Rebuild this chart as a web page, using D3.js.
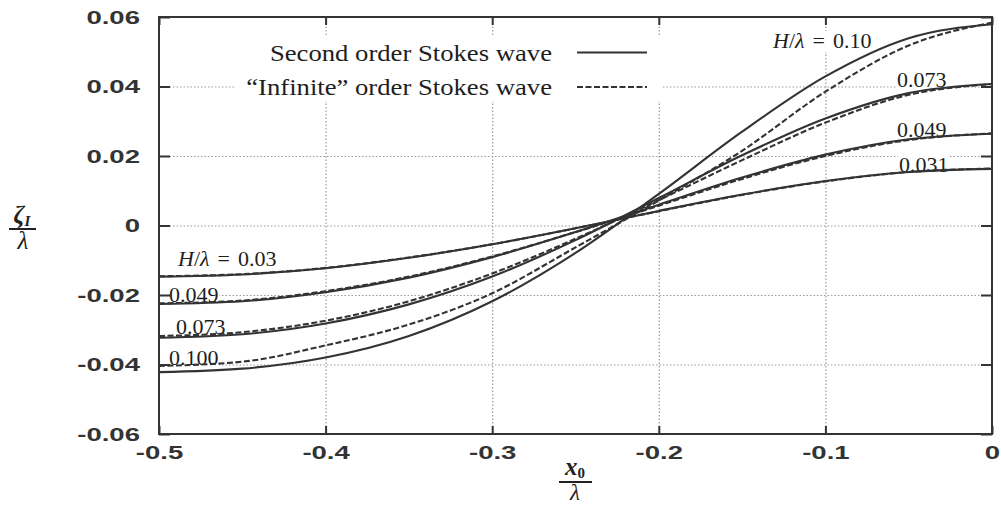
<!DOCTYPE html>
<html>
<head>
<meta charset="utf-8">
<script src="https://cdn.jsdelivr.net/npm/d3@7"></script>
<style>
  html, body { margin: 0; padding: 0; background: #fff; }
  svg { display: block; }
</style>
</head>
<body>
<svg id="chart" width="1001" height="507"></svg>
<script>
// Horizontal positions x0/λ sampled across half a wavelength (trough to crest)
const xPositions = [-0.5, -0.45, -0.4, -0.35, -0.3, -0.25, -0.2, -0.15, -0.1, -0.05, 0];

// Surface elevation ζ_I/λ, second order Stokes wave
const secondOrder031 = [-0.0147, -0.0141, -0.0123, -0.0093, -0.0054, -0.0008, 0.0042, 0.0089, 0.0128, 0.0154, 0.0163];
const secondOrder049 = [-0.0226, -0.0218, -0.0192, -0.0150, -0.0091, -0.0019, 0.0060, 0.0138, 0.0204, 0.0248, 0.0264];
const secondOrder073 = [-0.0323, -0.0313, -0.0282, -0.0227, -0.0147, -0.0042, 0.0079, 0.0202, 0.0308, 0.0381, 0.0407];
const secondOrder100 = [-0.0422, -0.0412, -0.0380, -0.0318, -0.0218, -0.0079, 0.0091, 0.0270, 0.0429, 0.0539, 0.0579];

// Surface elevation ζ_I/λ, "infinite" order Stokes wave
const infiniteOrder031 = [-0.0146, -0.0140, -0.0122, -0.0092, -0.0054, -0.0008, 0.0041, 0.0088, 0.0127, 0.0154, 0.0164];
const infiniteOrder049 = [-0.0224, -0.0216, -0.0189, -0.0147, -0.0089, -0.0019, 0.0057, 0.0134, 0.0200, 0.0246, 0.0265];
const infiniteOrder073 = [-0.0318, -0.0307, -0.0274, -0.0218, -0.0138, -0.0038, 0.0073, 0.0188, 0.0296, 0.0376, 0.0407];
const infiniteOrder100 = [-0.0404, -0.0392, -0.0345, -0.0285, -0.0195, -0.0063, 0.0072, 0.0215, 0.0385, 0.0518, 0.0584];

// Axis ticks
const xTicks = [-0.5, -0.4, -0.3, -0.2, -0.1, 0];
const yTicks = [-0.06, -0.04, -0.02, 0, 0.02, 0.04, 0.06];

// Legend entries
const legendLabels = ["Second order Stokes wave", "\u201cInfinite\u201d order Stokes wave"];

const svg = d3.select("#chart");
const ink = "#333";
const plotLeft = 159, plotRight = 992, plotTop = 17, plotBottom = 434;

const x = d3.scaleLinear().domain([-0.5, 0]).range([plotLeft, plotRight]);
const y = d3.scaleLinear().domain([-0.06, 0.06]).range([plotBottom, plotTop]);

const fmt = d => d === 0 ? "0" : String(d).replace("\u2212", "-");
const serif = "'Liberation Serif', 'DejaVu Serif', serif";

// Dotted grid
const grid = svg.append("g").attr("class", "grid");
grid.append("g")
  .attr("transform", `translate(0,${plotBottom})`)
  .call(d3.axisBottom(x).tickValues(xTicks.slice(1, -1)).tickSize(-(plotBottom - plotTop)).tickFormat(""));
grid.append("g")
  .attr("transform", `translate(${plotLeft},0)`)
  .call(d3.axisLeft(y).tickValues(yTicks.slice(1, -1)).tickSize(-(plotRight - plotLeft)).tickFormat(""));
grid.selectAll(".domain").remove();
grid.selectAll("line").attr("stroke", "#9a9a9a").attr("stroke-width", 1.2).attr("stroke-dasharray", "1.5,2");

// Legend (on white so the grid is hidden behind it)
const legend = svg.append("g");
legend.append("rect").attr("x", 236).attr("y", 37).attr("width", 426).attr("height", 64).attr("fill", "#fff");
const legendRows = [{ label: legendLabels[0], base: 61, lineY: 52.5, dash: null },
                    { label: legendLabels[1], base: 95, lineY: 87, dash: "6,2.5" }];
legendRows.forEach(r => {
  legend.append("text")
    .attr("x", 552).attr("y", r.base)
    .attr("text-anchor", "end")
    .attr("transform", `translate(552,0) scale(1.16,1) translate(-552,0)`)
    .attr("font-family", serif)
    .attr("font-size", 23).attr("fill", "#1e1e1e")
    .text(r.label);
  legend.append("line")
    .attr("x1", 577).attr("x2", 647).attr("y1", r.lineY).attr("y2", r.lineY)
    .attr("stroke", ink).attr("stroke-width", 2)
    .attr("stroke-dasharray", r.dash);
});

// Curve labels: [text, italic, extra horizontal gap before it]
const curveLabels = [
  { parts: [["H", true, 0], ["/", false, 0], ["\u03bb", true, 0], ["=", false, 8], ["0.10", false, 8]], x: 773, y: 48 },
  { parts: [["0.073", false, 0]], x: 897, y: 87 },
  { parts: [["0.049", false, 0]], x: 897, y: 137 },
  { parts: [["0.031", false, 0]], x: 899, y: 172 },
  { parts: [["H", true, 0], ["/", false, 0], ["\u03bb", true, 0], ["=", false, 8], ["0.03", false, 8]], x: 178, y: 266 },
  { parts: [["0.049", false, 0]], x: 169, y: 302 },
  { parts: [["0.073", false, 0]], x: 176, y: 334 },
  { parts: [["0.100", false, 0]], x: 169, y: 365 }
];
const labelLayer = svg.append("g");
curveLabels.forEach(l => {
  const g = labelLayer.append("g");
  const t = g.append("text")
    .attr("x", l.x).attr("y", l.y)
    .attr("font-family", serif)
    .attr("font-size", 22).attr("fill", "#1e1e1e");
  l.parts.forEach(([s, it, gap]) => t.append("tspan")
    .attr("font-style", it ? "italic" : "normal").attr("dx", gap).text(s));
  const b = t.node().getBBox();
  g.insert("rect", "text")
    .attr("x", b.x - 1).attr("y", b.y + 3).attr("width", b.width + 2).attr("height", b.height - 4)
    .attr("fill", "#fff");
});

// Curves
const line = d3.line().x(d => x(d[0])).y(d => y(d[1])).curve(d3.curveMonotoneX);
const series = [
  { v: secondOrder031, dash: null }, { v: secondOrder049, dash: null },
  { v: secondOrder073, dash: null }, { v: secondOrder100, dash: null },
  { v: infiniteOrder031, dash: "6,2.5" }, { v: infiniteOrder049, dash: "6,2.5" },
  { v: infiniteOrder073, dash: "6,2.5" }, { v: infiniteOrder100, dash: "6,2.5" }
];
const curves = svg.append("g").attr("fill", "none").attr("stroke", ink).attr("stroke-width", 2.1);
series.forEach(s => {
  curves.append("path")
    .datum(xPositions.map((xv, i) => [xv, s.v[i]]))
    .attr("d", line)
    .attr("stroke-dasharray", s.dash);
});

// Axes with inward ticks on all four sides
const tickFont = "'Liberation Sans', Arial, sans-serif";
function styleAxis(g) {
  g.selectAll(".domain").remove();
  g.selectAll("line").attr("stroke", ink).attr("stroke-width", 2);
}
const yAxis = svg.append("g").attr("transform", `translate(${plotLeft},0)`)
  .call(d3.axisLeft(y).tickValues(yTicks).tickSize(-11).tickPadding(19).tickFormat(d => fmt(+d.toFixed(2))));
styleAxis(yAxis);
yAxis.selectAll("text").each(function () {
  const t = d3.select(this);
  const tx = +t.attr("x");
  t.attr("transform", `translate(${tx},0) scale(1.45,1) translate(${-tx},0)`)
    .attr("font-family", tickFont).attr("font-weight", "bold").attr("font-size", 19).attr("fill", ink);
});

const xAxis = svg.append("g").attr("transform", `translate(0,${plotBottom})`)
  .call(d3.axisBottom(x).tickValues(xTicks).tickSize(-8).tickPadding(12).tickFormat(d => fmt(+d.toFixed(1))));
styleAxis(xAxis);
xAxis.selectAll("text")
  .attr("transform", "scale(1.45,1)")
  .attr("font-family", tickFont).attr("font-weight", "bold").attr("font-size", 19).attr("fill", ink);

const yRight = svg.append("g").attr("transform", `translate(${plotRight},0)`)
  .call(d3.axisRight(y).tickValues(yTicks).tickSize(-11).tickFormat(""));
styleAxis(yRight);
const xTop = svg.append("g").attr("transform", `translate(0,${plotTop})`)
  .call(d3.axisTop(x).tickValues(xTicks).tickSize(-8).tickFormat(""));
styleAxis(xTop);

// Frame
svg.append("rect")
  .attr("x", plotLeft).attr("y", plotTop).attr("width", plotRight - plotLeft).attr("height", plotBottom - plotTop)
  .attr("fill", "none").attr("stroke", ink).attr("stroke-width", 2);

// Axis titles as stacked fractions
const yl = svg.append("g");
const yNum = yl.append("text").attr("x", 22).attr("y", 223).attr("text-anchor", "middle")
  .attr("font-family", serif).attr("font-size", 25).attr("font-style", "italic").attr("font-weight", "bold").attr("fill", "#222");
yNum.append("tspan").text("\u03b6");
yNum.append("tspan").attr("font-size", 15).attr("dy", 3).text("I");
yl.append("line").attr("x1", 9).attr("x2", 36).attr("y1", 229).attr("y2", 229).attr("stroke", "#222").attr("stroke-width", 2);
yl.append("text").attr("x", 23).attr("y", 249).attr("text-anchor", "middle")
  .attr("font-family", serif).attr("font-size", 25).attr("font-style", "italic").attr("fill", "#222").text("\u03bb");

const xl = svg.append("g");
const xNum = xl.append("text").attr("x", 575).attr("y", 475).attr("text-anchor", "middle")
  .attr("font-family", serif).attr("font-size", 25).attr("font-style", "italic").attr("font-weight", "bold").attr("fill", "#222");
xNum.append("tspan").text("x");
xNum.append("tspan").attr("font-size", 15).attr("dy", 3).attr("font-style", "normal").text("0");
xl.append("line").attr("x1", 559).attr("x2", 592).attr("y1", 482).attr("y2", 482).attr("stroke", "#222").attr("stroke-width", 2);
xl.append("text").attr("x", 575).attr("y", 500).attr("text-anchor", "middle")
  .attr("font-family", serif).attr("font-size", 23).attr("font-style", "italic").attr("fill", "#222").text("\u03bb");
</script>
</body>
</html>
